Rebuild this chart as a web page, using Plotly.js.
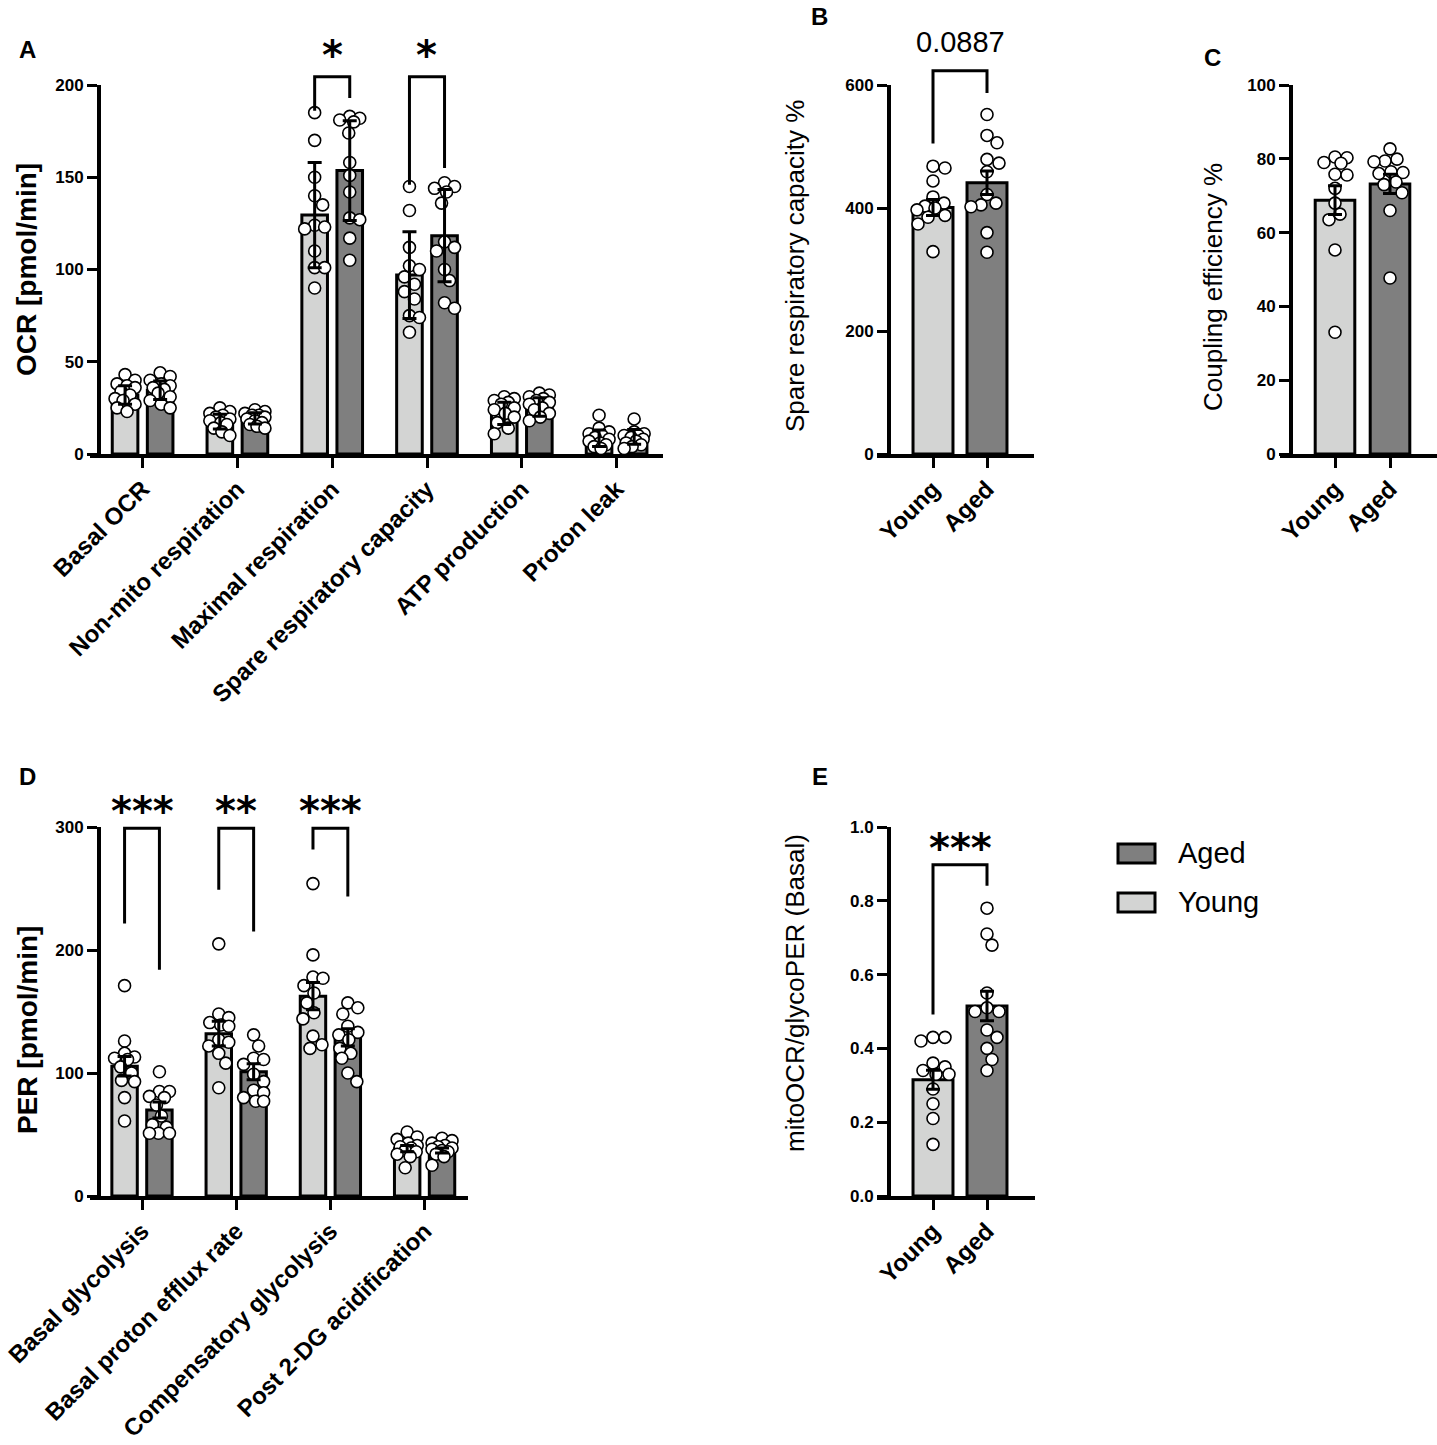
<!DOCTYPE html>
<html><head><meta charset="utf-8">
<script src="https://cdn.plot.ly/plotly-3.0.1.min.js"></script>
<style>body{margin:0;background:#fff}#chart{width:1437px;height:1445px}</style>
</head><body><div id="chart"></div>
<script>
// ---------------- DATA ----------------
const groupNames = ['Young', 'Aged'];

const ocrCategories = ['Basal OCR','Non-mito respiration','Maximal respiration','Spare respiratory capacity','ATP production','Proton leak'];
const ocrYoungMean = [32, 17.5, 129.5, 97, 22, 8.5];
const ocrAgedMean  = [34.5, 19.3, 153.6, 118.3, 25.5, 9.3];
const ocrYoungSD   = [5, 4, 28.5, 23.5, 6, 4.5];
const ocrAgedSD    = [5, 3, 27, 25, 5, 4];
const ocrYoungPts = [
  [43, 40, 38, 37, 36, 34, 32, 30, 29, 27, 25, 23],
  [25, 23, 22, 21, 20, 19, 18, 17, 16, 14, 12, 10],
  [185, 170, 150, 140, 135, 124, 123, 122, 110, 101, 101, 90],
  [145, 132, 112, 102, 100, 96, 92, 88, 84, 75, 74, 66],
  [31, 30, 29, 28, 27, 25, 24, 22, 20, 17, 14, 11],
  [21, 14, 12, 11, 10, 9, 8, 7, 6, 5, 4, 3]
];
const ocrAgedPts = [
  [44, 42, 40, 38, 37, 36, 35, 33, 31, 29, 27, 25],
  [24, 23, 22, 21, 21, 20, 19, 18, 17, 16, 15, 14],
  [183, 182, 181, 180, 174, 158, 151, 142, 128, 127, 117, 105],
  [147, 145, 144, 142, 136, 115, 112, 110, 100, 94, 82, 79],
  [33, 32, 31, 30, 29, 28, 27, 25, 24, 22, 20, 18],
  [19, 12, 11, 10, 10, 9, 8, 7, 6, 5, 4, 3]
];
const ocrTicks = [0, 50, 100, 150, 200];

const srcYoungPts = [468, 465, 444, 418, 408, 403, 400, 397, 388, 385, 374, 329];
const srcAgedPts  = [552, 518, 506, 479, 473, 459, 422, 408, 405, 402, 360, 328];
const srcMean = [401, 441];
const srcSEM  = [13, 19];
const srcTicks = [0, 200, 400, 600];
const srcPValue = '0.0887';

const ceYoungPts = [80.5, 80.3, 79, 78.8, 75.8, 75.6, 72, 68, 65, 63.5, 55.3, 33];
const ceAgedPts  = [82.7, 79.9, 79.4, 79.2, 76.5, 76.3, 76, 73.7, 73, 70.8, 66, 47.7];
const ceMean = [68.8, 73.2];
const ceSEM  = [3.9, 2.6];
const ceTicks = [0, 20, 40, 60, 80, 100];

const perCategories = ['Basal glycolysis','Basal proton efflux rate','Compensatory glycolysis','Post 2-DG acidification'];
const perYoungMean = [105.5, 132, 162.5, 38.5];
const perAgedMean  = [70, 101, 129, 37];
const perYoungSEM  = [8, 10, 11, 2.5];
const perAgedSEM   = [6.5, 6.5, 7, 2];
const perYoungPts = [
  [171, 126, 116, 113, 112, 111, 105, 100, 94, 93, 80, 61],
  [205, 148, 145, 141, 139, 138, 127, 125, 122, 116, 108, 88],
  [254, 196, 178, 177, 171, 165, 157, 149, 144, 130, 123, 120],
  [52, 48, 46, 43, 41, 40, 39, 37, 36, 34, 32, 23]
];
const perAgedPts = [
  [101, 85, 85, 81, 80, 74, 65, 58, 56, 51, 51, 51],
  [131, 122, 112, 111, 107, 99, 93, 86, 84, 80, 77, 77],
  [157, 153, 148, 138, 133, 131, 127, 120, 116, 112, 100, 93],
  [47, 45, 43, 41, 40, 39, 38, 37, 36, 34, 32, 25]
];
const perTicks = [0, 100, 200, 300];

const ratioYoungPts = [0.43, 0.43, 0.42, 0.36, 0.35, 0.34, 0.33, 0.33, 0.29, 0.25, 0.21, 0.14];
const ratioAgedPts  = [0.78, 0.71, 0.68, 0.55, 0.51, 0.50, 0.50, 0.45, 0.43, 0.40, 0.37, 0.34];
const ratioMean = [0.315, 0.515];
const ratioSEM  = [0.026, 0.04];
const ratioTicks = [0, 0.2, 0.4, 0.6, 0.8, 1.0];

// significance brackets: [left x, right x, top y, left leg bottom y, right leg bottom y, label]
const ocrSig = [[2, 2, 204.5, 186, 193, '*'], [3, 3, 204.5, 146, 155, '*']];
const perSig = [[0, 0, 299, 221.6, 183.9, '***'], [1, 1, 299, 249, 215, '**'], [2, 2, 299, 281.8, 243.4, '***']];
const srcSig = [0, 1, 623, 505, 587];
const ratioSig = [0, 1, 0.898, 0.492, 0.841, '***'];

// ---------------- STYLE / LAYOUT ----------------
const W = 1437, H = 1445;
const youngColor = '#d3d4d3', agedColor = '#7f7f7f';
const FONT = 'Liberation Sans, Arial, Helvetica, sans-serif';
const NARROW = 'Liberation Sans Narrow, Liberation Sans, Arial, sans-serif';

const panels = {
  A: {n: '',  lineStart: 90,   yAxisPx: 98,   end: 663,  tick0: 142.6, step: 94.8, top: 85,  bottom: 454,  ymax: 200},
  B: {n: '2', lineStart: 877,  yAxisPx: 888,  end: 1034, tick0: 933,   step: 54,   top: 85,  bottom: 454,  ymax: 600},
  C: {n: '3', lineStart: 1280, yAxisPx: 1290, end: 1437, tick0: 1335,  step: 55,   top: 85,  bottom: 454,  ymax: 100},
  D: {n: '4', lineStart: 90,   yAxisPx: 98,   end: 468,  tick0: 142,   step: 94.2, top: 827, bottom: 1196, ymax: 300},
  E: {n: '5', lineStart: 877,  yAxisPx: 888,  end: 1035, tick0: 933,   step: 54,   top: 827, bottom: 1196, ymax: 1}
};
function xPaper(P, x) { return (P.tick0 + x * P.step) / W; }
function yPaper(P, y) { return 1 - (P.bottom - y / P.ymax * (P.bottom - P.top)) / H; }
function yPxPerUnit(P) { return (P.bottom - P.top) / P.ymax; }

function swarm(vals, yScale, maxHalf, diam) {
  const placed = [], offs = [];
  vals.forEach(v => {
    const y = v * yScale;
    let best = 0, bestD = -1;
    for (let k = 0; k <= 2 * maxHalf; k++) {
      const o = (k % 2 === 1 ? 1 : -1) * Math.ceil(k / 2);
      let md = Infinity;
      placed.forEach(p => { const d = Math.hypot(p[0] - o, p[1] - y); if (d < md) md = d; });
      if (md >= diam) { best = o; bestD = md; break; }
      if (md > bestD) { bestD = md; best = o; }
    }
    placed.push([best, y]); offs.push(best);
  });
  return offs;
}

const traces = [];
const barLine = {color: 'black', width: 3};
const markerStyle = {symbol: 'circle', size: 12, color: 'white', line: {color: 'black', width: 1.6}};
function errStyle(arr) { return {type: 'data', array: arr, visible: true, color: 'black', thickness: 3, width: 7}; }

function addPanel(P, xs, means, errs, pts, colors, barW, maxHalf) {
  const xa = 'x' + P.n, ya = 'y' + P.n;
  for (let g = 0; g < 2; g++) {
    traces.push({type: 'bar', x: xs[g], y: means[g], width: barW, xaxis: xa, yaxis: ya,
      marker: {color: colors[g], line: barLine}, name: groupNames[g], hoverinfo: 'skip'});
  }
  for (let g = 0; g < 2; g++) {
    const px = [], py = [];
    pts[g].forEach((arr, i) => {
      const offs = swarm(arr, yPxPerUnit(P), maxHalf, 12);
      arr.forEach((v, j) => { px.push(xs[g][i] + offs[j] / P.step); py.push(v); });
    });
    traces.push({type: 'scatter', mode: 'markers', x: px, y: py, xaxis: xa, yaxis: ya,
      marker: markerStyle, cliponaxis: false, hoverinfo: 'skip', name: groupNames[g] + ' points'});
  }
  for (let g = 0; g < 2; g++) {
    traces.push({type: 'scatter', mode: 'markers', x: xs[g], y: means[g], xaxis: xa, yaxis: ya,
      marker: {size: 1, color: 'rgba(0,0,0,0)'}, error_y: errStyle(errs[g]), cliponaxis: false, hoverinfo: 'skip'});
  }
}

const off = 0.185;
addPanel(panels.A,
  [ocrCategories.map((_, i) => i - off), ocrCategories.map((_, i) => i + off)],
  [ocrYoungMean, ocrAgedMean], [ocrYoungSD, ocrAgedSD], [ocrYoungPts, ocrAgedPts],
  [youngColor, agedColor], 0.27, 10);
addPanel(panels.D,
  [perCategories.map((_, i) => i - off), perCategories.map((_, i) => i + off)],
  [perYoungMean, perAgedMean], [perYoungSEM, perAgedSEM], [perYoungPts, perAgedPts],
  [youngColor, agedColor], 0.27, 10);
addPanel(panels.B, [[0], [1]], [[srcMean[0]], [srcMean[1]]], [[srcSEM[0]], [srcSEM[1]]],
  [[srcYoungPts], [srcAgedPts]], [youngColor, agedColor], 0.74, 16);
addPanel(panels.C, [[0], [1]], [[ceMean[0]], [ceMean[1]]], [[ceSEM[0]], [ceSEM[1]]],
  [[ceYoungPts], [ceAgedPts]], [youngColor, agedColor], 0.72, 16);
addPanel(panels.E, [[0], [1]], [[ratioMean[0]], [ratioMean[1]]], [[ratioSEM[0]], [ratioSEM[1]]],
  [[ratioYoungPts], [ratioAgedPts]], [youngColor, agedColor], 0.74, 16);

const layout = {
  width: W, height: H, margin: {l: 0, r: 0, t: 0, b: 0},
  paper_bgcolor: 'white', plot_bgcolor: 'rgba(0,0,0,0)',
  showlegend: false, barmode: 'overlay',
  font: {family: FONT, color: 'black'},
  shapes: [], annotations: []
};

function axes(P, tickvals, ticktext, yticks, yfmt) {
  const xr = [(P.lineStart - P.tick0) / P.step, (P.end - P.tick0) / P.step];
  layout['xaxis' + P.n] = {
    domain: [P.lineStart / W, Math.min(1, P.end / W)], range: xr, anchor: 'y' + P.n,
    showline: true, linewidth: 3.5, linecolor: 'black', ticks: 'outside', ticklen: 10, tickwidth: 3, tickcolor: 'black',
    tickvals: tickvals, ticktext: ticktext, tickangle: -45, showgrid: false, zeroline: false,
    ticklabeloverflow: 'allow', ticklabelstandoff: -2,
    tickfont: {family: FONT, size: 24, color: 'black', weight: 'bold'}, fixedrange: true
  };
  layout['yaxis' + P.n] = {
    domain: [1 - P.bottom / H, 1 - P.top / H], range: [0, P.ymax], anchor: 'free', position: P.yAxisPx / W,
    showline: true, linewidth: 3.5, linecolor: 'black', ticks: 'outside', ticklen: 10, tickwidth: 3, tickcolor: 'black',
    tickvals: yticks, tickformat: yfmt || '', showgrid: false, zeroline: false, ticklabeloverflow: 'allow',
    tickfont: {family: NARROW, size: 17, color: 'black', weight: 'bold'}, fixedrange: true
  };
}
axes(panels.A, ocrCategories.map((_, i) => i), ocrCategories, ocrTicks);
axes(panels.B, [0, 1], groupNames, srcTicks);
axes(panels.C, [0, 1], groupNames, ceTicks);
axes(panels.D, perCategories.map((_, i) => i), perCategories, perTicks);
axes(panels.E, [0, 1], groupNames, ratioTicks, '.1f');

function bracket(P, x1, x2, yTop, yL, yR) {
  layout.shapes.push({type: 'path', xref: 'paper', yref: 'paper',
    path: `M ${xPaper(P, x1)},${yPaper(P, yL)} L ${xPaper(P, x1)},${yPaper(P, yTop)} L ${xPaper(P, x2)},${yPaper(P, yTop)} L ${xPaper(P, x2)},${yPaper(P, yR)}`,
    line: {color: 'black', width: 3}});
}
function starLabel(P, xc, yPx, text) {
  layout.annotations.push({xref: 'paper', yref: 'paper', x: xPaper(P, xc), y: 1 - yPx / H,
    text: text, showarrow: false, xanchor: 'center', yanchor: 'middle',
    font: {family: 'DejaVu Sans, sans-serif', size: 40, color: 'black', weight: 'bold'}});
}
ocrSig.forEach(s => { bracket(panels.A, s[0] - off, s[1] + off, s[2], s[3], s[4]); starLabel(panels.A, s[0], 55, s[5]); });
perSig.forEach(s => { bracket(panels.D, s[0] - off, s[1] + off, s[2], s[3], s[4]); starLabel(panels.D, s[0], 811, s[5]); });
bracket(panels.B, srcSig[0], srcSig[1], srcSig[2], srcSig[3], srcSig[4]);
layout.annotations.push({xref: 'paper', yref: 'paper', x: xPaper(panels.B, 0.5), y: 1 - 42 / H, text: srcPValue,
  showarrow: false, xanchor: 'center', yanchor: 'middle', font: {family: FONT, size: 29, color: 'black'}});
bracket(panels.E, ratioSig[0], ratioSig[1], ratioSig[2], ratioSig[3], ratioSig[4]);
starLabel(panels.E, 0.5, 848, ratioSig[5]);

function ytitle(text, xPx, yPx, bold) {
  layout.annotations.push({xref: 'paper', yref: 'paper', x: xPx / W, y: 1 - yPx / H, text: text, textangle: -90,
    showarrow: false, xanchor: 'center', yanchor: 'middle',
    font: {family: FONT, size: bold ? 28 : 26, color: 'black', weight: bold ? 'bold' : 'normal'}});
}
ytitle('OCR [pmol/min]', 27, 270, true);
ytitle('PER [pmol/min]', 27, 1030, true);
ytitle('Spare respiratory capacity %', 795, 266, false);
ytitle('Coupling efficiency %', 1213, 287, false);
ytitle('mitoOCR/glycoPER (Basal)', 795, 993, false);

[['A', 27, 50], ['B', 820, 17], ['C', 1212, 58], ['D', 27, 776], ['E', 820, 776]].forEach(l => {
  layout.annotations.push({xref: 'paper', yref: 'paper', x: l[1] / W, y: 1 - l[2] / H, text: l[0], showarrow: false,
    xanchor: 'center', yanchor: 'middle', font: {family: FONT, size: 24, color: 'black', weight: 'bold'}});
});

[['Aged', agedColor, 844, 863, 853], ['Young', youngColor, 893, 912, 902]].forEach(l => {
  layout.shapes.push({type: 'rect', xref: 'paper', yref: 'paper', x0: 1118 / W, x1: 1155 / W,
    y0: 1 - l[3] / H, y1: 1 - l[2] / H, fillcolor: l[1], line: {color: 'black', width: 3}});
  layout.annotations.push({xref: 'paper', yref: 'paper', x: 1176 / W, y: 1 - l[4] / H, text: l[0], showarrow: false,
    xanchor: 'left', yanchor: 'middle', font: {family: FONT, size: 29, color: 'black'}});
});

Plotly.newPlot('chart', traces, layout, {staticPlot: true});
</script></body></html>
